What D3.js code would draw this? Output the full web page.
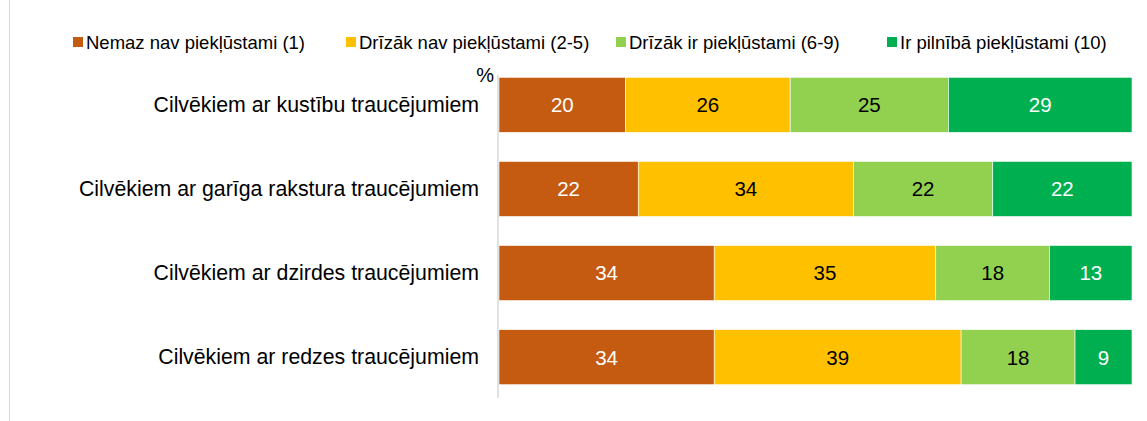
<!DOCTYPE html>
<html>
<head>
<meta charset="utf-8">
<script src="https://cdn.jsdelivr.net/npm/d3@7"></script>
<style>
  body { margin: 0; background: #fff; }
  svg { font-family: "Liberation Sans", Arial, sans-serif; display: block; }
</style>
</head>
<body>
<svg id="chart" width="1147" height="421"></svg>
<script>
const categories = [
  "Cilvēkiem ar kustību traucējumiem",
  "Cilvēkiem ar garīga rakstura traucējumiem",
  "Cilvēkiem ar dzirdes traucējumiem",
  "Cilvēkiem ar redzes traucējumiem"
];
const seriesNames = [
  "Nemaz nav piekļūstami (1)",
  "Drīzāk nav piekļūstami (2-5)",
  "Drīzāk ir piekļūstami (6-9)",
  "Ir pilnībā piekļūstami (10)"
];
const nemaz = [20, 22, 34, 34];
const drizakNav = [26, 34, 35, 39];
const drizakIr = [25, 22, 18, 18];
const pilniba = [29, 22, 13, 9];
const colors = ["#C55A11", "#FFC000", "#92D050", "#00B050"];
const labelColors = ["#fff", "#000", "#000", "#fff"];

const svg = d3.select("#chart");
const margin = { top: 77, left: 499, right: 15 };
const width = 1132 - margin.left;

const x = d3.scaleLinear().domain([0, 100]).range([margin.left, margin.left + width]);
const y = d3.scaleBand().domain(categories).range([63, 399]).paddingInner(0.345).paddingOuter(0.17);

const table = categories.map((c, i) => ({
  cat: c, v: [nemaz[i], drizakNav[i], drizakIr[i], pilniba[i]]
}));
const stack = d3.stack().keys([0, 1, 2, 3]).value((d, k) => d.v[k]);
const layers = stack(table);

// chart frame line on the left
svg.append("line").attr("x1", 9.5).attr("x2", 9.5).attr("y1", 0).attr("y2", 421)
  .attr("stroke", "#d9d9d9").attr("stroke-width", 1);

const g = svg.append("g");
layers.forEach((layer, k) => {
  const lg = g.append("g");
  lg.selectAll("rect").data(layer).join("rect")
    .attr("x", d => x(d[0]))
    .attr("y", d => y(d.data.cat))
    .attr("width", d => x(d[1]) - x(d[0]))
    .attr("height", y.bandwidth())
    .attr("fill", colors[k])
    .attr("stroke", "#fff").attr("stroke-width", 0.6);
  lg.selectAll("text").data(layer).join("text")
    .attr("x", d => (x(d[0]) + x(d[1])) / 2)
    .attr("y", d => y(d.data.cat) + y.bandwidth() / 2)
    .attr("dy", "0.36em")
    .attr("text-anchor", "middle")
    .attr("font-size", 20.5)
    .attr("fill", labelColors[k])
    .text(d => d.data.v[k]);
});

// y axis
const yAxis = svg.append("g").attr("transform", `translate(${margin.left - 1},0)`)
  .call(d3.axisLeft(y).tickSize(0).tickPadding(19));
yAxis.select(".domain").attr("stroke", "#d9d9d9").attr("stroke-width", 1.5)
  .attr("d", `M0,75V398`);
yAxis.selectAll("text").attr("font-size", 21.3).attr("fill", "#000")
  .attr("font-family", "Liberation Sans, Arial, sans-serif");

svg.append("text").attr("x", 494).attr("y", 82).attr("text-anchor", "end")
  .attr("font-size", 20).text("%");

// legend
const legendX = [73, 346, 616, 887];
const legend = svg.append("g");
seriesNames.forEach((name, k) => {
  legend.append("rect").attr("x", legendX[k]).attr("y", 37).attr("width", 10).attr("height", 10)
    .attr("fill", colors[k]);
  legend.append("text").attr("x", legendX[k] + 13).attr("y", 42).attr("dy", "0.36em")
    .attr("font-size", 18.5).text(name);
});
</script>
</body>
</html>
